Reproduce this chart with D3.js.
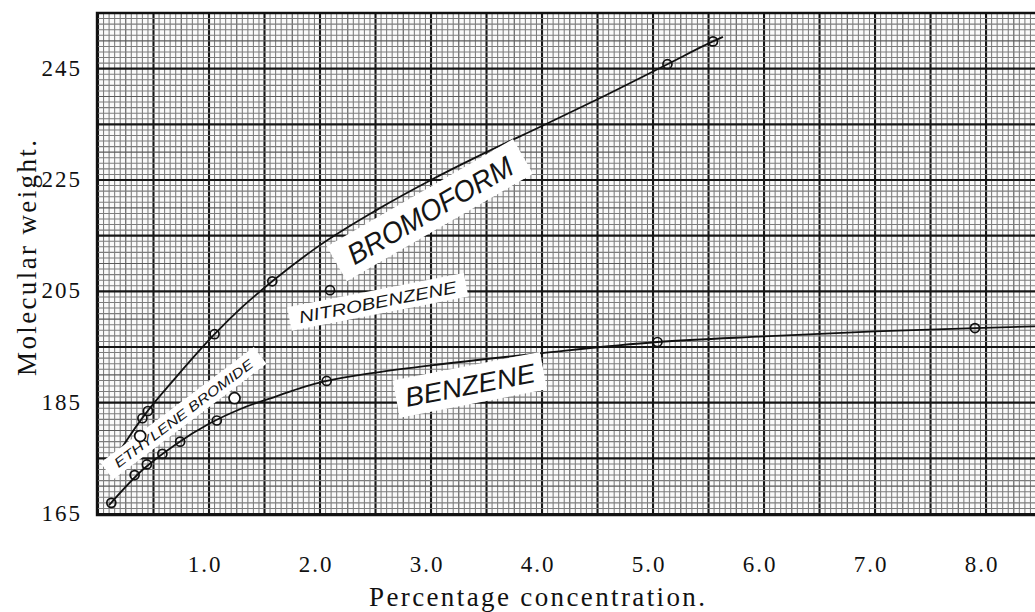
<!DOCTYPE html>
<html>
<head>
<meta charset="utf-8">
<script src="https://cdn.jsdelivr.net/npm/d3@7"></script>
<style>
  body { margin: 0; background: #fff; }
</style>
</head>
<body>
<svg id="chart" width="1035" height="612"></svg>
<script>
const benzeneX = [0.12, 0.33, 0.44, 0.58, 0.74, 1.07, 2.06, 5.04, 7.90];
const benzeneY = [167.0, 172.0, 173.9, 175.8, 178.0, 181.8, 188.9, 195.9, 198.4];
const bromoformX = [0.40, 0.45, 1.05, 1.57, 5.13, 5.54];
const bromoformY = [182.2, 183.5, 197.3, 206.8, 245.8, 249.9];
const ethyleneX = [0.38, 1.23];
const ethyleneY = [179.0, 185.8];
const nitroX = [2.09];
const nitroY = [205.2];

// the hand drawn curves
const benzeneCurveX = [0.10, 0.40, 0.70, 1.00, 1.30, 1.60, 1.85, 2.06, 2.50, 3.00, 4.00, 5.04, 6.00, 7.00, 7.90, 8.45];
const benzeneCurveY = [166.6, 172.9, 177.5, 181.2, 184.0, 186.1, 187.8, 188.9, 190.4, 191.7, 193.9, 195.9, 196.9, 197.8, 198.4, 198.7];
const bromoformCurveX = [0.10, 0.25, 0.42, 0.70, 1.05, 1.30, 1.57, 2.00, 2.50, 3.00, 3.50, 4.00, 4.50, 5.13, 5.54, 5.63];
const bromoformCurveY = [173.3, 178.0, 182.8, 189.5, 197.3, 202.2, 206.8, 213.3, 219.5, 225.0, 230.0, 234.7, 239.5, 245.8, 249.9, 250.7];

// tick labels
const xTicks = [1, 2, 3, 4, 5, 6, 7, 8];
const yTicks = [165, 185, 205, 225, 245];

// pasted-on name slips
const slipText = ['BROMOFORM', 'NITROBENZENE', 'BENZENE', 'ETHYLENE BROMIDE'];
const slipX = [2.99, 2.52, 3.35, 0.77];
const slipY = [219.6, 203.1, 188.2, 183.1];

const svg = d3.select('#chart');
const x = d3.scaleLinear().domain([0, 8.45]).range([98, 1036]);
const y = d3.scaleLinear().domain([165, 255]).range([514, 13]);

// graph paper
svg.append('clipPath').attr('id', 'paper')
  .append('rect')
  .attr('x', x(0) - 1).attr('y', y(255))
  .attr('width', 1035 - x(0) + 1).attr('height', y(165) - y(255));

const grid = svg.append('g').attr('clip-path', 'url(#paper)');
grid.append('rect')
  .attr('x', x(0)).attr('y', y(255))
  .attr('width', 1035 - x(0)).attr('height', y(165) - y(255))
  .attr('fill', '#fafafa');

const vLines = d3.range(0, 170).map(i => ({ v: i * 0.05, k: i % 10 === 0 ? 2 : i % 5 === 0 ? 1 : 0 }));
const hLines = d3.range(0, 91).map(i => ({ v: 165 + i, k: i % 10 === 0 ? 2 : i % 5 === 0 ? 1 : 0 }));
const gstroke = ['#7c7c7c', '#5a5a5a', '#161616'];
const gwidth = [1.05, 1.15, 2.1];

grid.selectAll('.vl').data(vLines).enter().append('line')
  .attr('x1', d => x(d.v)).attr('x2', d => x(d.v))
  .attr('y1', y(255)).attr('y2', y(165))
  .attr('stroke', d => gstroke[d.k]).attr('stroke-width', d => gwidth[d.k]);
grid.selectAll('.hl').data(hLines).enter().append('line')
  .attr('y1', d => y(d.v)).attr('y2', d => y(d.v))
  .attr('x1', x(0)).attr('x2', 1035)
  .attr('stroke', d => gstroke[d.k]).attr('stroke-width', d => gwidth[d.k]);

// frame
svg.append('path')
  .attr('d', `M1035,${y(255)}H${x(0) - 1}V${y(165) + 1}H1035`)
  .attr('fill', 'none').attr('stroke', '#111').attr('stroke-width', 2.4);

// curves
const line = d3.line().x(d => x(d[0])).y(d => y(d[1])).curve(d3.curveMonotoneX);
const curves = [d3.zip(benzeneCurveX, benzeneCurveY), d3.zip(bromoformCurveX, bromoformCurveY)];
svg.append('g').selectAll('path').data(curves).enter().append('path')
  .attr('d', line)
  .attr('fill', 'none').attr('stroke', '#111').attr('stroke-width', 1.8);

// name slips
const slipW = [215, 180, 150, 192];
const slipH = [40, 24, 38, 21];
const slipAngle = [-30, -11, -11, -37];
const slipFont = [29, 17, 27, 13.5];
const slipLen = [186, 160, 132, 170];

const slips = svg.append('g').selectAll('g').data(slipText).enter().append('g')
  .attr('transform', (d, i) => `translate(${x(slipX[i])},${y(slipY[i])}) rotate(${slipAngle[i]})`);
slips.append('rect')
  .attr('x', (d, i) => -slipW[i] / 2).attr('y', (d, i) => -slipH[i] / 2)
  .attr('width', (d, i) => slipW[i]).attr('height', (d, i) => slipH[i])
  .attr('fill', '#fff');
slips.append('text')
  .attr('text-anchor', 'middle')
  .attr('dy', (d, i) => slipFont[i] * 0.36)
  .attr('textLength', (d, i) => slipLen[i])
  .attr('lengthAdjust', 'spacingAndGlyphs')
  .attr('font-family', 'Liberation Sans, Arial, sans-serif')
  .attr('font-style', 'italic')
  .attr('font-size', (d, i) => slipFont[i])
  .attr('fill', '#151515')
  .text(d => d);

// observed points
const pts = svg.append('g');
const drawPts = (xs, ys, r, fill) => {
  pts.selectAll(null).data(d3.zip(xs, ys)).enter().append('circle')
    .attr('cx', d => x(d[0])).attr('cy', d => y(d[1]))
    .attr('r', r)
    .attr('fill', fill).attr('stroke', '#111').attr('stroke-width', 1.7);
};
drawPts(benzeneX, benzeneY, 4.5, 'none');
drawPts(bromoformX, bromoformY, 4.5, 'none');
drawPts(nitroX, nitroY, 4.5, 'none');
drawPts(ethyleneX, ethyleneY, 5.5, '#fff');

// tick labels
svg.append('g').selectAll('text').data(xTicks).enter().append('text')
  .attr('x', d => x(d) - 4).attr('y', 572)
  .attr('text-anchor', 'middle')
  .attr('font-family', 'Liberation Serif, serif')
  .attr('font-size', 23).attr('letter-spacing', 2)
  .attr('fill', '#111')
  .text(d => d3.format('.1f')(d));

svg.append('g').selectAll('text').data(yTicks).enter().append('text')
  .attr('x', 82).attr('y', d => y(d) + 7)
  .attr('text-anchor', 'end')
  .attr('font-family', 'Liberation Serif, serif')
  .attr('font-size', 23).attr('letter-spacing', 2)
  .attr('fill', '#111')
  .text(d => d);

// axis titles
svg.append('text')
  .attr('x', 537).attr('y', 606)
  .attr('text-anchor', 'middle')
  .attr('textLength', 336).attr('lengthAdjust', 'spacing')
  .attr('font-family', 'Liberation Serif, serif')
  .attr('font-size', 27)
  .attr('fill', '#111')
  .text('Percentage concentration.');

svg.append('text')
  .attr('transform', 'translate(36,258) rotate(-90)')
  .attr('text-anchor', 'middle')
  .attr('textLength', 236).attr('lengthAdjust', 'spacing')
  .attr('font-family', 'Liberation Serif, serif')
  .attr('font-size', 27)
  .attr('fill', '#111')
  .text('Molecular weight.');
</script>
</body>
</html>
